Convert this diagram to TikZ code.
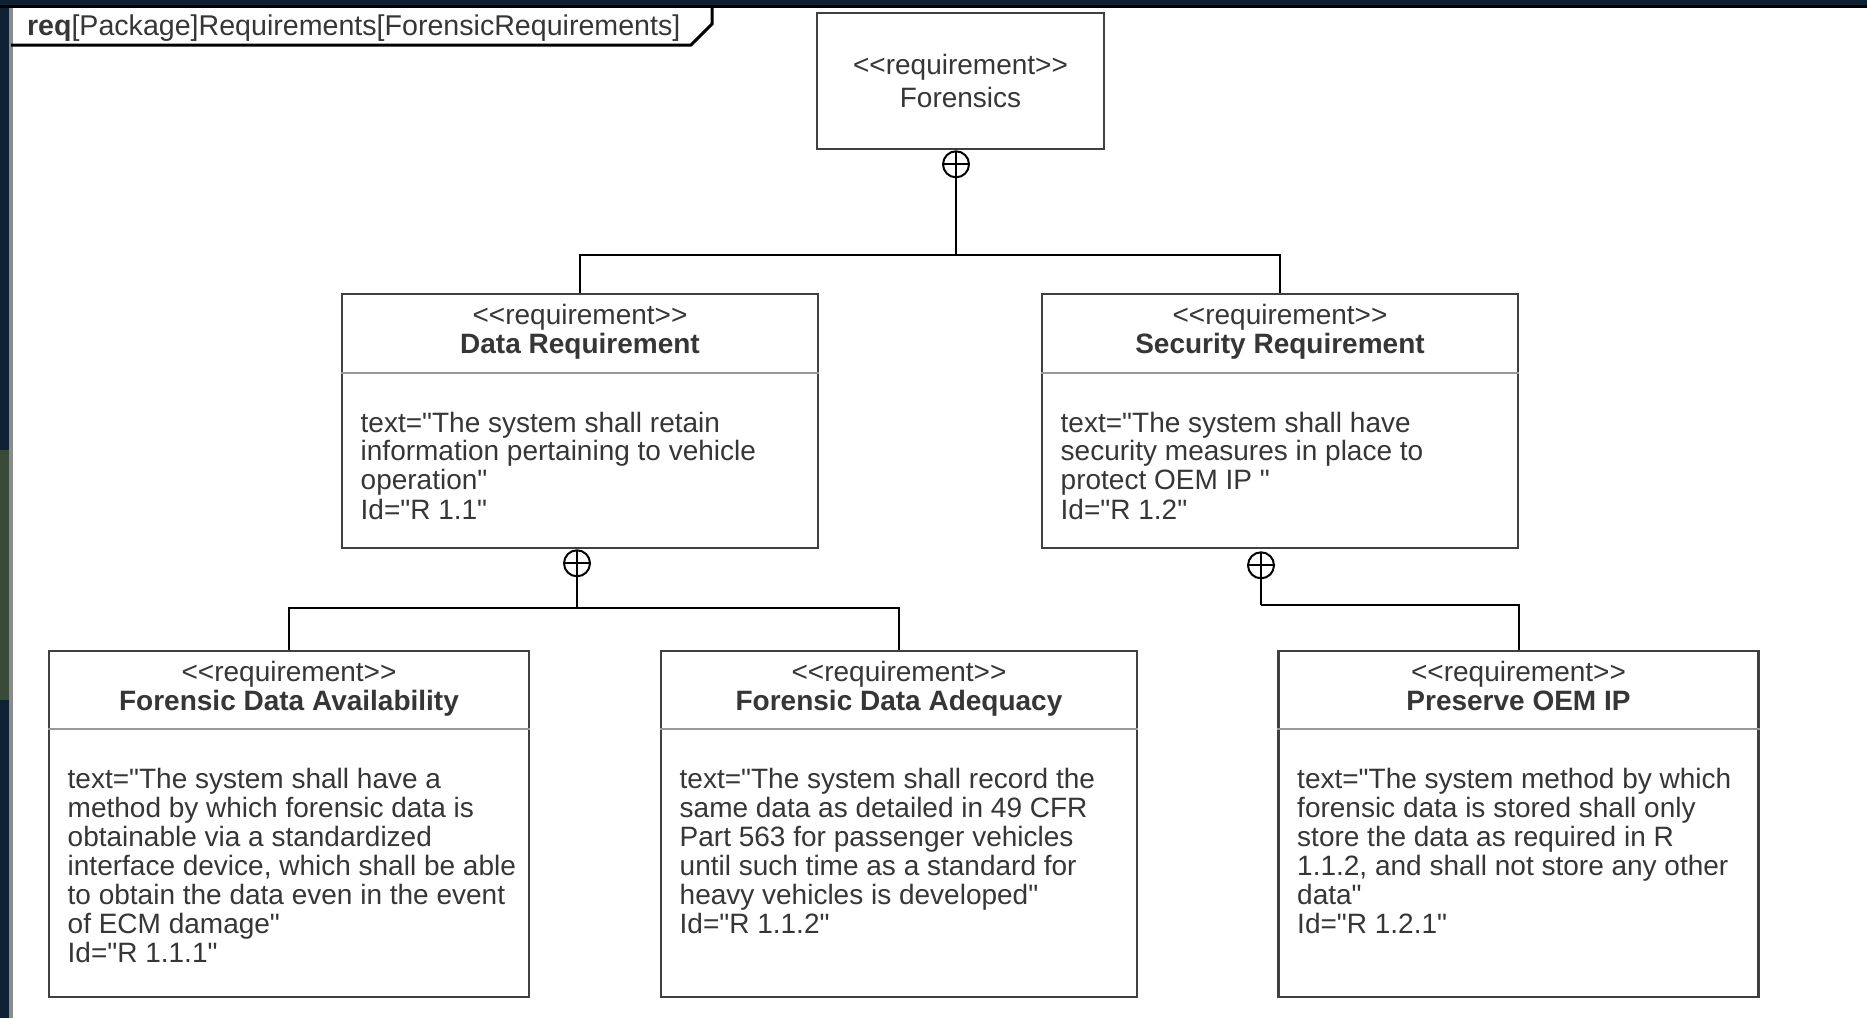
\documentclass[tikz,border=0pt]{standalone}
\usepackage{fontspec}
\setmainfont{Liberation Sans}[Ligatures=TeXOff]
\usetikzlibrary{positioning}
\definecolor{slidenavy}{HTML}{0F2233}
\definecolor{slideolive}{HTML}{3A4A38}
\definecolor{inkgray}{HTML}{363636}

\begin{document}
\begin{tikzpicture}[
  x=0.5pt, y=-0.5pt,
  every path/.style={line width=1pt},
  every node/.style={font=\fontsize{14}{14.5}\selectfont, text=inkgray},
  topbox/.style={draw=black!75, line width=1.3pt, fill=white, minimum width=143.5pt, minimum height=68pt, inner sep=0},
  midbox/.style={draw=black!75, line width=1.3pt, fill=white, minimum width=238pt, minimum height=127pt, inner sep=0},
  lowbox/.style={draw=black!75, line width=1.3pt, fill=white, minimum width=240pt, minimum height=173pt, inner sep=0},
  stereo/.style={anchor=base, inner sep=0},
  reqname/.style={anchor=base, inner sep=0, font=\fontsize{14}{14.5}\selectfont\bfseries},
  bodytext/.style={anchor=north west, align=left, inner sep=0},
  divider/.style={draw=black!40, line width=0.8pt},
  contain/.style={draw=black, circle, fill=white, minimum size=13pt, inner sep=0,
    path picture={\draw (path picture bounding box.north) -- (path picture bounding box.south)
      (path picture bounding box.west) -- (path picture bounding box.east);}},
  ]
  \useasboundingbox (0,0) rectangle (1867,1018);
  % slide behind the diagram
  \fill[slidenavy] (0,0) rectangle (1867,5);
  \fill[slidenavy] (0,0) rectangle (9,1018);
  \fill[slideolive] (0,450) rectangle (9,700);
  % frame and its tab
  \draw[black!45, line width=2pt] (11,1018) -- (11,7);
  \draw[black, line width=1.5pt] (0,6.5) -- (1867,6.5);
  \draw[black, line width=1.5pt] (11,45) -- (691,45) -- (712,24) -- (712,6);
  \node[anchor=base west, inner sep=0, font=\fontsize{14.3}{14.5}\selectfont] (frametitle) at (26,35) {\textbf{req}[Package]Requirements[ForensicRequirements]};

  % Forensics
  \node[topbox] (forensics) at (960.5,81) {};
  \node[stereo] (forensics-st) at ([yshift=-31.5pt]forensics.north) {<<requirement>>};
  \node[stereo] (forensics-nm) at ([yshift=-48pt]forensics.north) {Forensics};

  % Data Requirement
  \node[midbox] (datareq) at (580,421) {};
  \node[stereo] (datareq-st) at ([yshift=-16pt]datareq.north) {<<requirement>>};
  \node[reqname] (datareq-nm) at ([yshift=-30.5pt]datareq.north) {Data Requirement};
  \draw[divider] ([yshift=-40pt]datareq.north west) -- ([yshift=-40pt]datareq.north east);
  \node[bodytext] (datareq-tx) at ([xshift=9.5pt,yshift=-59pt]datareq.north west)
    {text="The system shall retain\\information pertaining to vehicle\\operation"\\Id="R 1.1"};

  % Security Requirement
  \node[midbox] (secreq) at (1280,421) {};
  \node[stereo] (secreq-st) at ([yshift=-16pt]secreq.north) {<<requirement>>};
  \node[reqname] (secreq-nm) at ([yshift=-30.5pt]secreq.north) {Security Requirement};
  \draw[divider] ([yshift=-40pt]secreq.north west) -- ([yshift=-40pt]secreq.north east);
  \node[bodytext] (secreq-tx) at ([xshift=9.5pt,yshift=-59pt]secreq.north west)
    {text="The system shall have\\security measures in place to\\protect OEM IP "\\Id="R 1.2"};

  % Forensic Data Availability
  \node[lowbox] (fdavail) at (289,824) {};
  \node[stereo] (fdavail-st) at ([yshift=-16pt]fdavail.north) {<<requirement>>};
  \node[reqname] (fdavail-nm) at ([yshift=-30.5pt]fdavail.north) {Forensic Data Availability};
  \draw[divider] ([yshift=-39.5pt]fdavail.north west) -- ([yshift=-39.5pt]fdavail.north east);
  \node[bodytext] (fdavail-tx) at ([xshift=9.5pt,yshift=-58.5pt]fdavail.north west)
    {text="The system shall have a\\method by which forensic data is\\obtainable via a standardized\\interface device, which shall be able\\to obtain the data even in the event\\of ECM damage"\\Id="R 1.1.1"};

  % Forensic Data Adequacy
  \node[lowbox, minimum width=238pt] (fdadeq) at (899,824) {};
  \node[stereo] (fdadeq-st) at ([yshift=-16pt]fdadeq.north) {<<requirement>>};
  \node[reqname] (fdadeq-nm) at ([yshift=-30.5pt]fdadeq.north) {Forensic Data Adequacy};
  \draw[divider] ([yshift=-39.5pt]fdadeq.north west) -- ([yshift=-39.5pt]fdadeq.north east);
  \node[bodytext] (fdadeq-tx) at ([xshift=9.5pt,yshift=-58.5pt]fdadeq.north west)
    {text="The system shall record the\\same data as detailed in 49 CFR\\Part 563 for passenger vehicles\\until such time as a standard for\\heavy vehicles is developed"\\Id="R 1.1.2"};

  % Preserve OEM IP
  \node[lowbox] (oemip) at (1518.5,824) {};
  \node[stereo] (oemip-st) at ([yshift=-16pt]oemip.north) {<<requirement>>};
  \node[reqname] (oemip-nm) at ([yshift=-30.5pt]oemip.north) {Preserve OEM IP};
  \draw[divider] ([yshift=-39.5pt]oemip.north west) -- ([yshift=-39.5pt]oemip.north east);
  \node[bodytext] (oemip-tx) at ([xshift=9.5pt,yshift=-58.5pt]oemip.north west)
    {text="The system method by which\\forensic data is stored shall only\\store the data as required in R\\1.1.2, and shall not store any other\\data"\\Id="R 1.2.1"};

  % containment
  \node[contain, below=0pt of forensics.south, xshift=-2.25pt] (c-forensics) {};
  \node[contain, below=0pt of datareq.south, xshift=-1.5pt] (c-datareq) {};
  \node[contain, below=1pt of secreq.south, xshift=-9.5pt] (c-secreq) {};
  \draw (c-forensics.south) -- ++(0,77) coordinate (j-forensics);
  \draw (j-forensics) -| (datareq.north);
  \draw (j-forensics) -| (secreq.north);
  \draw (c-datareq.south) -- ++(0,31) coordinate (j-datareq);
  \draw (j-datareq) -| (fdavail.north);
  \draw (j-datareq) -| (fdadeq.north);
  \draw (c-secreq.south) -- ++(0,26) coordinate (j-secreq);
  \draw (j-secreq) -| (oemip.north);
\end{tikzpicture}
\end{document}
